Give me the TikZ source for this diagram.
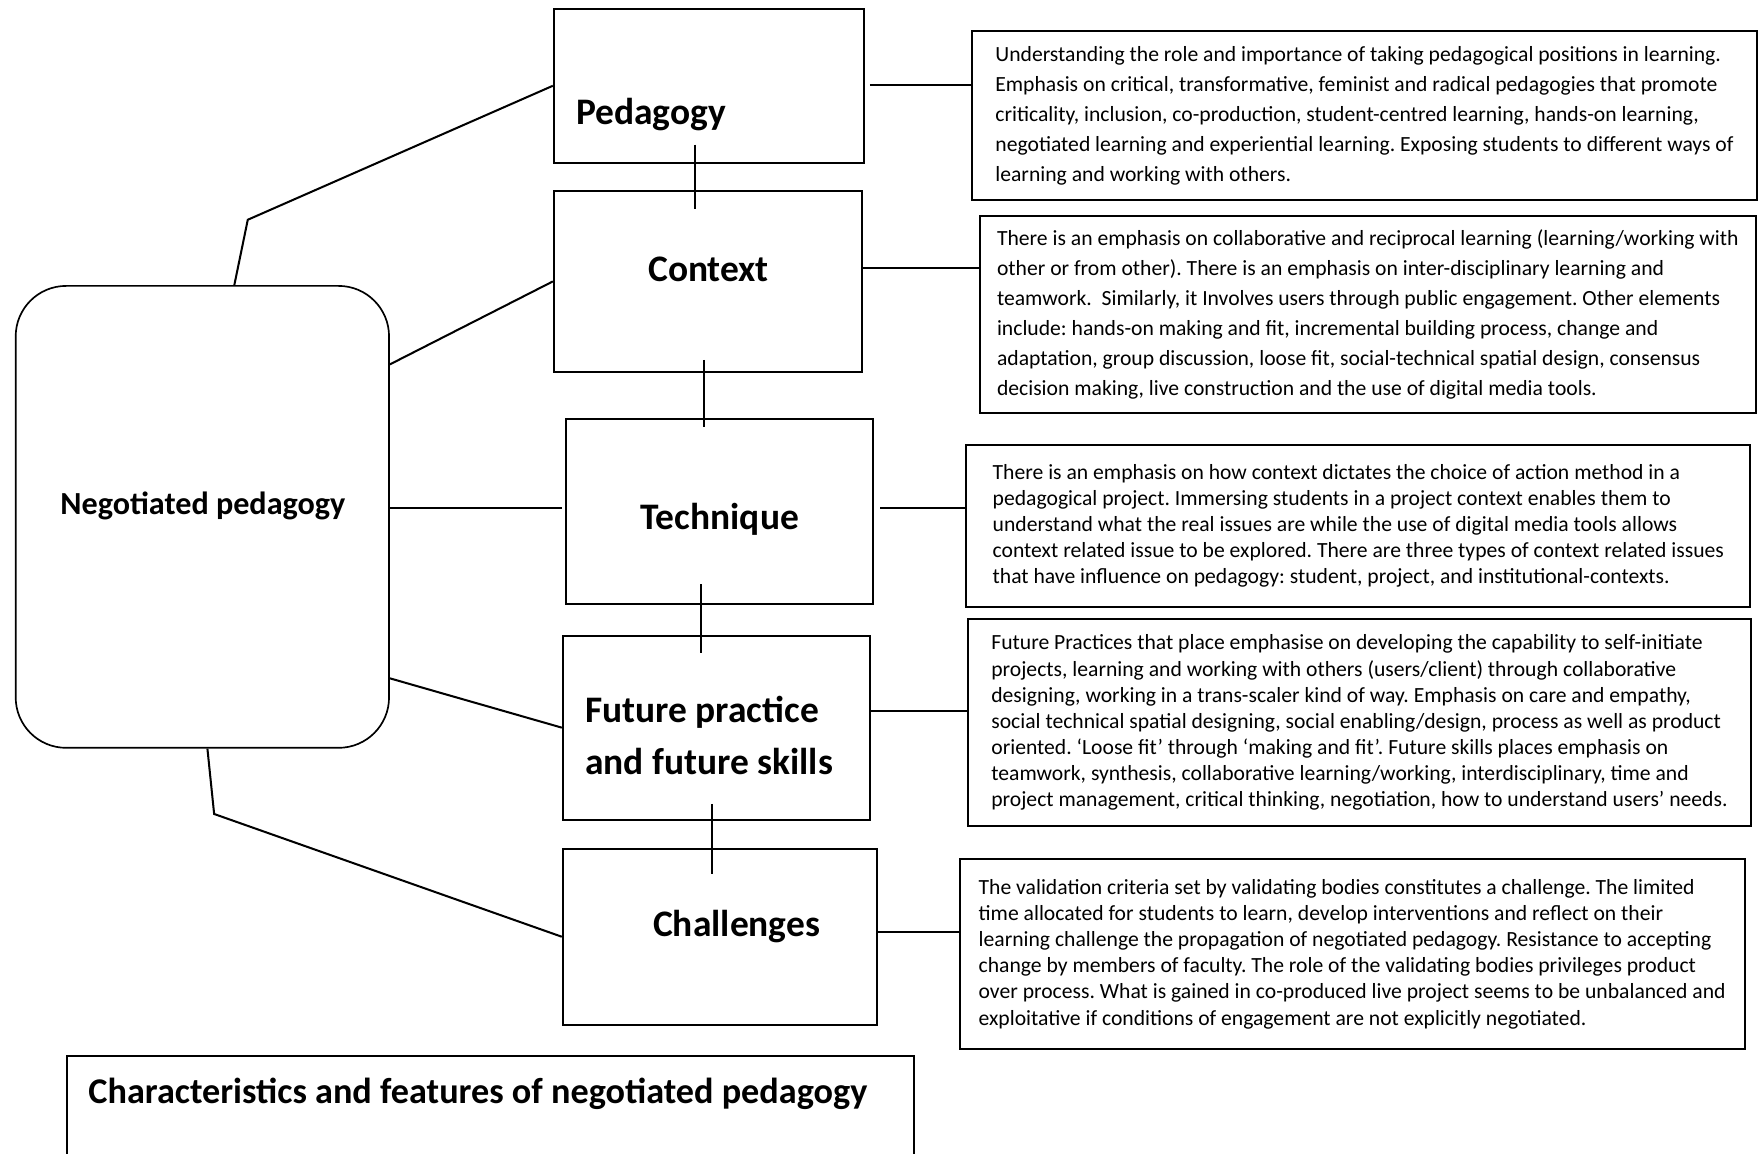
\documentclass[tikz,border=0pt]{standalone}
\usepackage{fontspec}
\setmainfont{Carlito}
\frenchspacing

\begin{document}
\begin{tikzpicture}[x = 1pt, y = -1pt, line width = 1.8pt,
	box/.style = {draw, rectangle, inner sep = 0pt},
	head/.style = {inner sep = 0pt, font = \bfseries\fontsize{33.4}{46}\selectfont},
	desc/.style = {draw, rectangle, align = left, inner xsep = 0pt, inner ysep = 0pt}]

	% Definitions
	
	\def\descbig{\fontsize{19.3}{26.8}\selectfont}		% Description fonts
	\def\descsmall{\fontsize{19.3}{23.3}\selectfont}
	
	\path [use as bounding box, clip] (0, 0) rectangle (1568, 1029);
	
	% Draw main boxes
	
	\node [box, rounded corners = 45pt, line width = 1.5pt, minimum width = 333pt, minimum height = 412pt] (neg) at (180.5, 461) {};
	\node [head, font = \bfseries\fontsize{28.7}{32}\selectfont] (neglab) at (181, 451) {Negotiated pedagogy};
	
	\node [box, minimum width = 277pt, minimum height = 137pt] (ped) at (632.5, 76.5) {};
	\node [head, anchor = west] (pedlab) at (513, 102) {Pedagogy};
	
	\node [box, minimum width = 275pt, minimum height = 162pt] (ctx) at (631.5, 251) {};
	\node [head] (ctxlab) at (632, 240) {Context};
	
	\node [box, minimum width = 274pt, minimum height = 165pt] (tech) at (642, 456.5) {};
	\node [head] (techlab) at (642, 463) {Technique};
	
	\node [box, minimum width = 274pt, minimum height = 164pt] (fut) at (639, 649) {};
	\node [head, anchor = west, align = left] (futlab) at (521, 656) {Future practice\\and future skills};
	
	\node [box, minimum width = 280pt, minimum height = 157pt] (chal) at (642, 835.5) {};
	\node [head] (challab) at (657, 826) {Challenges};
	
	\node [box, line width = 1.5pt, minimum width = 755pt, minimum height = 118pt] (feat) at (437.5, 1001) {};
	\node [head, anchor = west, font = \bfseries\fontsize{32.3}{36}\selectfont] (featlab) at (78, 976) {Characteristics and features of negotiated pedagogy};
	
	% Draw description boxes
	
	\node [desc, minimum width = 700pt, minimum height = 150pt, font = \descbig] (d1) at (1217, 103) {Understanding the role and importance of taking pedagogical positions in learning.\\
Emphasis on critical, transformative, feminist and radical pedagogies that promote\\
criticality, inclusion, co-production, student-centred learning, hands-on learning,\\
negotiated learning and experiential learning. Exposing students to different ways of\\
learning and working with others.};
	
	\node [desc, minimum width = 692pt, minimum height = 175pt, font = \descbig] (d2) at (1220, 280.5) {There is an emphasis on collaborative and reciprocal learning (learning/working with\\
other or from other). There is an emphasis on inter-disciplinary learning and\\
teamwork.\ \ Similarly, it Involves users through public engagement. Other elements\\
include: hands-on making and fit, incremental building process, change and\\
adaptation, group discussion, loose fit, social-technical spatial design, consensus\\
decision making, live construction and the use of digital media tools.};
	
	\node [desc, minimum width = 699pt, minimum height = 144pt, font = \descsmall] (d3) at (1211.5, 469) {There is an emphasis on how context dictates the choice of action method in a\\
pedagogical project. Immersing students in a project context enables them to\\
understand what the real issues are while the use of digital media tools allows\\
context related issue to be explored. There are three types of context related issues\\
that have influence on pedagogy: student, project, and institutional-contexts.};
	
	\node [desc, minimum width = 699pt, minimum height = 185pt, font = \descsmall] (d4) at (1212.5, 644.5) {Future Practices that place emphasise on developing the capability to self-initiate\\
projects, learning and working with others (users/client) through collaborative\\
designing, working in a trans-scaler kind of way. Emphasis on care and empathy,\\
social technical spatial designing, social enabling/design, process as well as product\\
oriented. ‘Loose fit’ through ‘making and fit’. Future skills places emphasis on\\
teamwork, synthesis, collaborative learning/working, interdisciplinary, time and\\
project management, critical thinking, negotiation, how to understand users’ needs.};
	
	\node [desc, minimum width = 700pt, minimum height = 170pt, font = \descsmall] (d5) at (1206, 851) {The validation criteria set by validating bodies constitutes a challenge. The limited\\
time allocated for students to learn, develop interventions and reflect on their\\
learning challenge the propagation of negotiated pedagogy. Resistance to accepting\\
change by members of faculty. The role of the validating bodies privileges product\\
over process. What is gained in co-produced live project seems to be unbalanced and\\
exploitative if conditions of engagement are not explicitly negotiated.};
	
	% Draw connectors from the rounded box
	
	\coordinate (bendtop) at (221, 196);
	\coordinate (bendbot) at (191, 726);
	
	\draw ([xshift = 28.5pt] neg.north) -- (bendtop) -- (ped.west);
	\draw ([yshift = 136pt] neg.east) -- (ctx.west);
	\draw ([yshift = 8pt] neg.east) -- ([xshift = -3pt, yshift = 3.5pt] tech.west);
	\draw ([yshift = -144pt] neg.east) -- (fut.west);
	\draw ([xshift = 4.5pt] neg.south) -- (bendbot) -- (chal.west);
	
	% Draw links between main boxes
	
	\foreach \a/\b/\xa/\ya/\xb/\yb in {ped/ctx/-12.5/17/-11.5/-17, ctx/tech/-3.5/12/-14/-8, tech/fut/-17/19/-14/-16, fut/chal/-4/15/-7/-23}
	{
		\draw ([xshift = \xa pt, yshift = \ya pt] \a.south) -- ([xshift = \xb pt, yshift = \yb pt] \b.north);
	}
	
	% Draw links to descriptions
	
	\foreach \a/\b/\dx/\dy in {ped/d1/4/1, ctx/d2/0/12, tech/d3/5/3.5, fut/d4/0/15, chal/d5/0/4.5}
	{
		\draw ([xshift = \dx pt, yshift = \dy pt] \a.east) coordinate (s) -- (s -| \b.west);
	}
	
\end{tikzpicture}
\end{document}
